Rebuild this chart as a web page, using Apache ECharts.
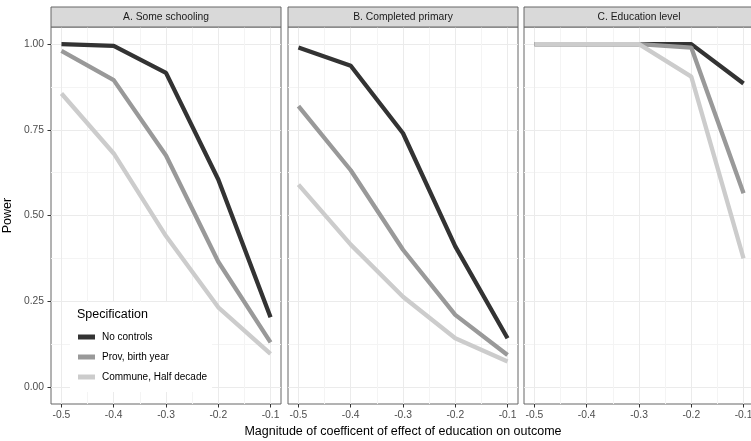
<!DOCTYPE html>
<html>
<head>
<meta charset="utf-8">
<script src="https://cdn.jsdelivr.net/npm/echarts@6/dist/echarts.min.js"></script>
<style>
  html, body { margin: 0; padding: 0; background: #fff; }
  #chart { width: 751px; height: 441px; }
</style>
</head>
<body>
<div id="chart"></div>
<script>
// x positions (magnitude of coefficient)
const magnitudes = [-0.5, -0.4, -0.3, -0.2, -0.1];
const xTicks = [-0.5, -0.4, -0.3, -0.2, -0.1];
const xMinor = [-0.45, -0.35, -0.25, -0.15];
const yTicks = [0, 0.25, 0.5, 0.75, 1];
const yMinor = [0.125, 0.375, 0.625, 0.875];

const panelTitles = ["A. Some schooling", "B. Completed primary", "C. Education level"];
const specNames = ["No controls", "Prov, birth year", "Commune, Half decade"];

// power values, one array per panel + specification
const someNoControls = [1.00, 0.995, 0.916, 0.605, 0.203];
const someProvBirth = [0.980, 0.895, 0.675, 0.365, 0.130];
const someCommune = [0.856, 0.681, 0.440, 0.232, 0.096];

const primaryNoControls = [0.990, 0.937, 0.740, 0.410, 0.142];
const primaryProvBirth = [0.819, 0.632, 0.400, 0.210, 0.093];
const primaryCommune = [0.590, 0.415, 0.263, 0.142, 0.074];

const levelNoControls = [1.00, 1.00, 1.00, 1.00, 0.885];
const levelProvBirth = [1.00, 1.00, 1.00, 0.990, 0.565];
const levelCommune = [1.00, 1.00, 1.00, 0.905, 0.375];

const panelData = [
  [someNoControls, someProvBirth, someCommune],
  [primaryNoControls, primaryProvBirth, primaryCommune],
  [levelNoControls, levelProvBirth, levelCommune]
];

const lineColors = ["#333333", "#999999", "#cccccc"];
const font = "Liberation Sans, Arial, sans-serif";

const chart = echarts.init(document.getElementById("chart"));

// panel layout
const panelLeft = [51, 288, 524];
const panelWidth = 230;
const panelTop = 27;
const panelHeight = 377;
const stripTop = 7;
const stripHeight = 20;

const grids = [];
const xAxes = [];
const yAxes = [];
const series = [];
const graphics = [];

panelLeft.forEach(function (left, i) {
  grids.push({
    left: left,
    top: panelTop,
    width: panelWidth,
    height: panelHeight,
    outerBoundsMode: "none",
    containLabel: false,
    show: true,
    backgroundColor: "#fff",
    borderColor: "#666",
    borderWidth: 1
  });

  // main x axis
  xAxes.push({
    type: "value",
    gridIndex: i,
    position: "bottom",
    min: -0.52,
    max: -0.08,
    axisLine: { show: false, onZero: false },
    axisTick: { show: true, customValues: xTicks, length: 3.5, lineStyle: { color: "#333" } },
    axisLabel: {
      customValues: xTicks,
      formatter: function (v) { return String(Math.round(v * 10) / 10); },
      fontSize: 10.3,
      color: "#4d4d4d",
      fontFamily: font,
      margin: 6
    },
    splitLine: { show: true, lineStyle: { color: "#ebebeb", width: 1 } },
    name: i === 1 ? "Magnitude of coefficent of effect of education on outcome" : "",
    nameLocation: "middle",
    nameGap: 21,
    nameTextStyle: { fontSize: 12.5, color: "#000", fontFamily: font }
  });
  // minor x grid
  xAxes.push({
    type: "value",
    gridIndex: i,
    position: "bottom",
    min: -0.52,
    max: -0.08,
    axisLine: { show: false, onZero: false },
    axisTick: { show: false, customValues: xMinor },
    axisLabel: { show: false },
    splitLine: { show: true, lineStyle: { color: "#f4f4f4", width: 1 } }
  });

  // main y axis
  yAxes.push({
    type: "value",
    gridIndex: i,
    position: "left",
    min: -0.05,
    max: 1.05,
    axisLine: { show: false, onZero: false },
    axisTick: { show: i === 0, customValues: yTicks, length: 3.5, lineStyle: { color: "#333" } },
    axisLabel: {
      show: i === 0,
      customValues: yTicks,
      formatter: function (v) { return v.toFixed(2); },
      fontSize: 10.3,
      color: "#4d4d4d",
      fontFamily: font,
      margin: 7
    },
    splitLine: { show: true, lineStyle: { color: "#ebebeb", width: 1 } },
    name: i === 0 ? "Power" : "",
    nameLocation: "middle",
    nameGap: 37,
    nameTextStyle: { fontSize: 12.5, color: "#000", fontFamily: font }
  });
  // minor y grid
  yAxes.push({
    type: "value",
    gridIndex: i,
    position: "left",
    min: -0.05,
    max: 1.05,
    axisLine: { show: false, onZero: false },
    axisTick: { show: false, customValues: yMinor },
    axisLabel: { show: false },
    splitLine: { show: true, lineStyle: { color: "#f4f4f4", width: 1 } }
  });

  // lines
  panelData[i].forEach(function (vals, s) {
    series.push({
      name: specNames[s],
      type: "line",
      xAxisIndex: i * 2,
      yAxisIndex: i * 2,
      data: magnitudes.map(function (m, k) { return [m, vals[k]]; }),
      symbol: "none",
      lineStyle: { color: lineColors[s], width: 4.3 },
      itemStyle: { color: lineColors[s] },
      z: 3
    });
  });

  // facet strip
  graphics.push({
    type: "rect",
    shape: { x: left, y: stripTop, width: panelWidth, height: stripHeight },
    style: { fill: "#d9d9d9", stroke: "#666", lineWidth: 1 },
    z: 5
  });
  graphics.push({
    type: "text",
    x: left + panelWidth / 2,
    y: stripTop + stripHeight / 2,
    style: {
      text: panelTitles[i],
      fill: "#1a1a1a",
      font: "10.3px " + font,
      textAlign: "center",
      textVerticalAlign: "middle"
    },
    z: 6
  });
});

// legend title
graphics.push({
  type: "text",
  x: 77,
  y: 315,
  style: {
    text: "Specification",
    fill: "#000",
    font: "12.5px " + font,
    textVerticalAlign: "middle"
  },
  z: 100
});

chart.setOption({
  animation: false,
  backgroundColor: "#fff",
  grid: grids,
  xAxis: xAxes,
  yAxis: yAxes,
  series: series,
  legend: {
    data: specNames.map(function (n) { return { name: n, icon: "rect" }; }),
    orient: "vertical",
    left: 70,
    top: 302,
    padding: [28, 5, 8, 8],
    backgroundColor: "#fff",
    itemWidth: 17,
    itemHeight: 5,
    itemGap: 6,
    textStyle: { fontSize: 10, color: "#000", fontFamily: font, lineHeight: 14, padding: [0, 0, 0, 2] },
    selectedMode: false
  },
  graphic: graphics
});
</script>
</body>
</html>
